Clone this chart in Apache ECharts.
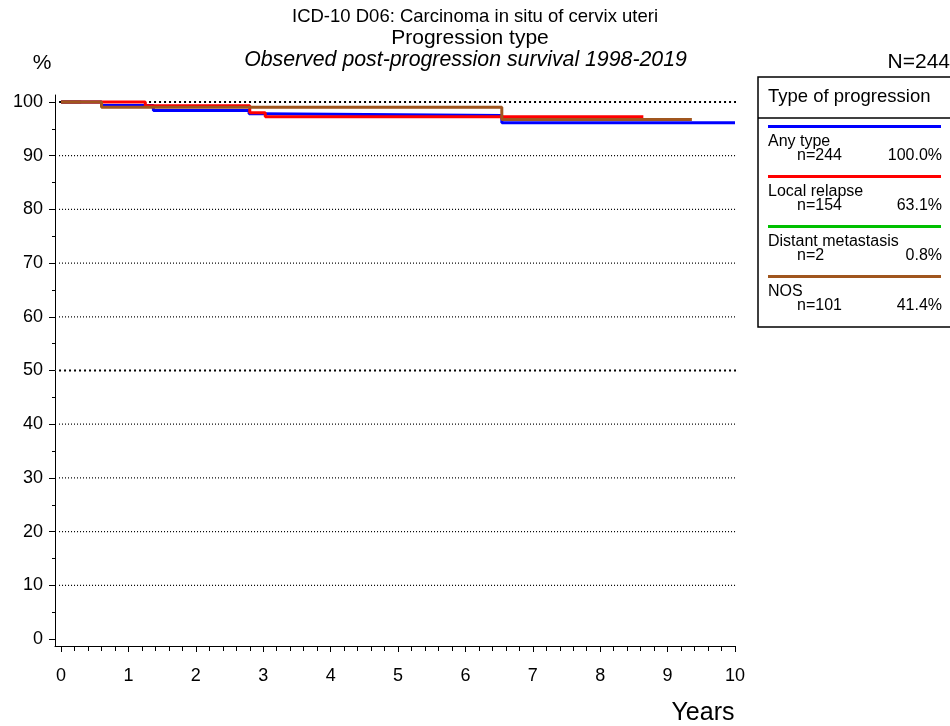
<!DOCTYPE html>
<html><head><meta charset="utf-8">
<script src="https://cdn.jsdelivr.net/npm/echarts@6/dist/echarts.min.js"></script>
<style>html,body{margin:0;padding:0;background:#fff;}#c{width:950px;height:726px;}</style>
</head><body><div id="c"></div>
<script>
// ---- data ----
const anyType = [[0,100],[0.60,99.35],[1.37,98.4],[2.79,97.8],[3.0,97.5],[6.54,96.15],[10.0,96.15]];
const localRelapse = [[0,100],[1.25,99.3],[2.80,98.0],[3.03,97.25],[8.64,97.25]];
const distantMetastasis = [[0,100],[0.3,100]];
const nos = [[0,100],[0.60,99.0],[6.54,96.75],[9.36,96.75]];
const seriesNames = ['Any type','Local relapse','Distant metastasis','NOS'];
const seriesN = ['n=244','n=154','n=2','n=101'];
const seriesPct = ['100.0%','63.1%','0.8%','41.4%'];
const seriesColors = ['#0000ff','#ff0000','#00c000','#a0561e'];
const yMajor = [0,10,20,30,40,50,60,70,80,90,100];
const yMinor = [5,15,25,35,45,55,65,75,85,95];
const xMajor = [0,1,2,3,4,5,6,7,8,9,10];
const xMinor = [];
for (let i = 0; i <= 50; i++) { if (i % 5) xMinor.push(+(i*0.2).toFixed(1)); }
const gridValues = [10,20,30,40,50,60,70,80,90,100];

const FONT = '"Liberation Sans", Arial, sans-serif';
const chart = echarts.init(document.getElementById('c'), null, {renderer:'canvas'});

const XMIN = -0.09, XMAX = 10, YMIN = -1.3, YMAX = 101.3;

const gridSeries = gridValues.map(v => {
  const bold = (v === 50 || v === 100);
  return {type:'line', silent:true, data:[[-0.03, v],[10.04, v]], showSymbol:false, z:1,
    lineStyle:{color:'#000', width: bold ? 2 : 1.2, type: bold ? [2,3] : [1,2]}};
});

const legendGraphics = [];
legendGraphics.push({type:'rect', shape:{x:758, y:77, width:210, height:250}, style:{fill:'#fff', stroke:'#000', lineWidth:1.5}, z:10});
legendGraphics.push({type:'line', shape:{x1:758, y1:118, x2:950, y2:118}, style:{stroke:'#000', lineWidth:1.5}, z:11});
legendGraphics.push({type:'text', x:768, y:97, style:{text:'Type of progression', font:'18.5px '+FONT, fill:'#000', textVerticalAlign:'middle'}, z:11});
for (let i = 0; i < 4; i++) {
  const y0 = 126.5 + i*50;
  legendGraphics.push({type:'line', shape:{x1:768, y1:y0, x2:941, y2:y0}, style:{stroke:seriesColors[i], lineWidth:3}, z:11});
  legendGraphics.push({type:'text', x:768, y:y0+15, style:{text:seriesNames[i], font:'16px '+FONT, fill:'#000', textVerticalAlign:'middle'}, z:11});
  legendGraphics.push({type:'text', x:797, y:y0+29, style:{text:seriesN[i], font:'16px '+FONT, fill:'#000', textVerticalAlign:'middle'}, z:11});
  legendGraphics.push({type:'text', x:942, y:y0+29, style:{text:seriesPct[i], font:'16px '+FONT, fill:'#000', textAlign:'right', textVerticalAlign:'middle'}, z:11});
}

const axisCommon = {type:'value', splitLine:{show:false}};

chart.setOption({
  backgroundColor:'#fff',
  animation:false,
  grid:{left:55, right:215, top:95, bottom:80},
  xAxis:[
    Object.assign({}, axisCommon, {min:XMIN, max:XMAX, position:'bottom',
      axisLine:{show:true, onZero:false, lineStyle:{color:'#000', width:1}},
      axisTick:{show:true, customValues:xMajor, length:6, lineStyle:{color:'#000'}},
      axisLabel:{show:true, customValues:xMajor, margin:21, fontSize:18, color:'#000', fontFamily:FONT}}),
    Object.assign({}, axisCommon, {min:XMIN, max:XMAX, position:'bottom', offset:0,
      axisLine:{show:false, onZero:false},
      axisTick:{show:true, customValues:xMinor, length:5, lineStyle:{color:'#000'}},
      axisLabel:{show:false}})
  ],
  yAxis:[
    Object.assign({}, axisCommon, {min:YMIN, max:YMAX, position:'left',
      axisLine:{show:true, onZero:false, lineStyle:{color:'#000', width:1}},
      axisTick:{show:true, customValues:yMajor, length:6, lineStyle:{color:'#000'}},
      axisLabel:{show:true, customValues:yMajor, margin:12, fontSize:18, color:'#000', fontFamily:FONT}}),
    Object.assign({}, axisCommon, {min:YMIN, max:YMAX, position:'left', offset:0,
      axisLine:{show:false, onZero:false},
      axisTick:{show:true, customValues:yMinor, length:3, lineStyle:{color:'#000'}},
      axisLabel:{show:false}})
  ],
  series: gridSeries.concat([
    {type:'line', name:seriesNames[2], data:distantMetastasis, step:'end', showSymbol:false, lineStyle:{color:seriesColors[2], width:3}, z:2},
    {type:'line', name:seriesNames[0], data:anyType, step:'end', showSymbol:false, lineStyle:{color:seriesColors[0], width:3}, z:3},
    {type:'line', name:seriesNames[1], data:localRelapse, step:'end', showSymbol:false, lineStyle:{color:seriesColors[1], width:3}, z:4},
    {type:'line', name:seriesNames[3], data:nos, step:'end', showSymbol:false, lineStyle:{color:seriesColors[3], width:3}, z:5}
  ]),
  graphic:[
    {type:'text', x:475, y:17, style:{text:'ICD-10 D06: Carcinoma in situ of cervix uteri', font:'18.5px '+FONT, fill:'#000', textAlign:'center', textVerticalAlign:'middle'}},
    {type:'text', x:470, y:38, style:{text:'Progression type', font:'21px '+FONT, fill:'#000', textAlign:'center', textVerticalAlign:'middle'}},
    {type:'text', x:465.5, y:60, style:{text:'Observed post-progression survival 1998-2019', font:'italic 21.3px '+FONT, fill:'#000', textAlign:'center', textVerticalAlign:'middle'}},
    {type:'text', x:42, y:63, style:{text:'%', font:'21px '+FONT, fill:'#000', textAlign:'center', textVerticalAlign:'middle'}},
    {type:'text', x:950, y:62, style:{text:'N=244', font:'21px '+FONT, fill:'#000', textAlign:'right', textVerticalAlign:'middle'}},
    {type:'text', x:703, y:713, style:{text:'Years', font:'25px '+FONT, fill:'#000', textAlign:'center', textVerticalAlign:'middle'}}
  ].concat(legendGraphics)
});
</script></body></html>
